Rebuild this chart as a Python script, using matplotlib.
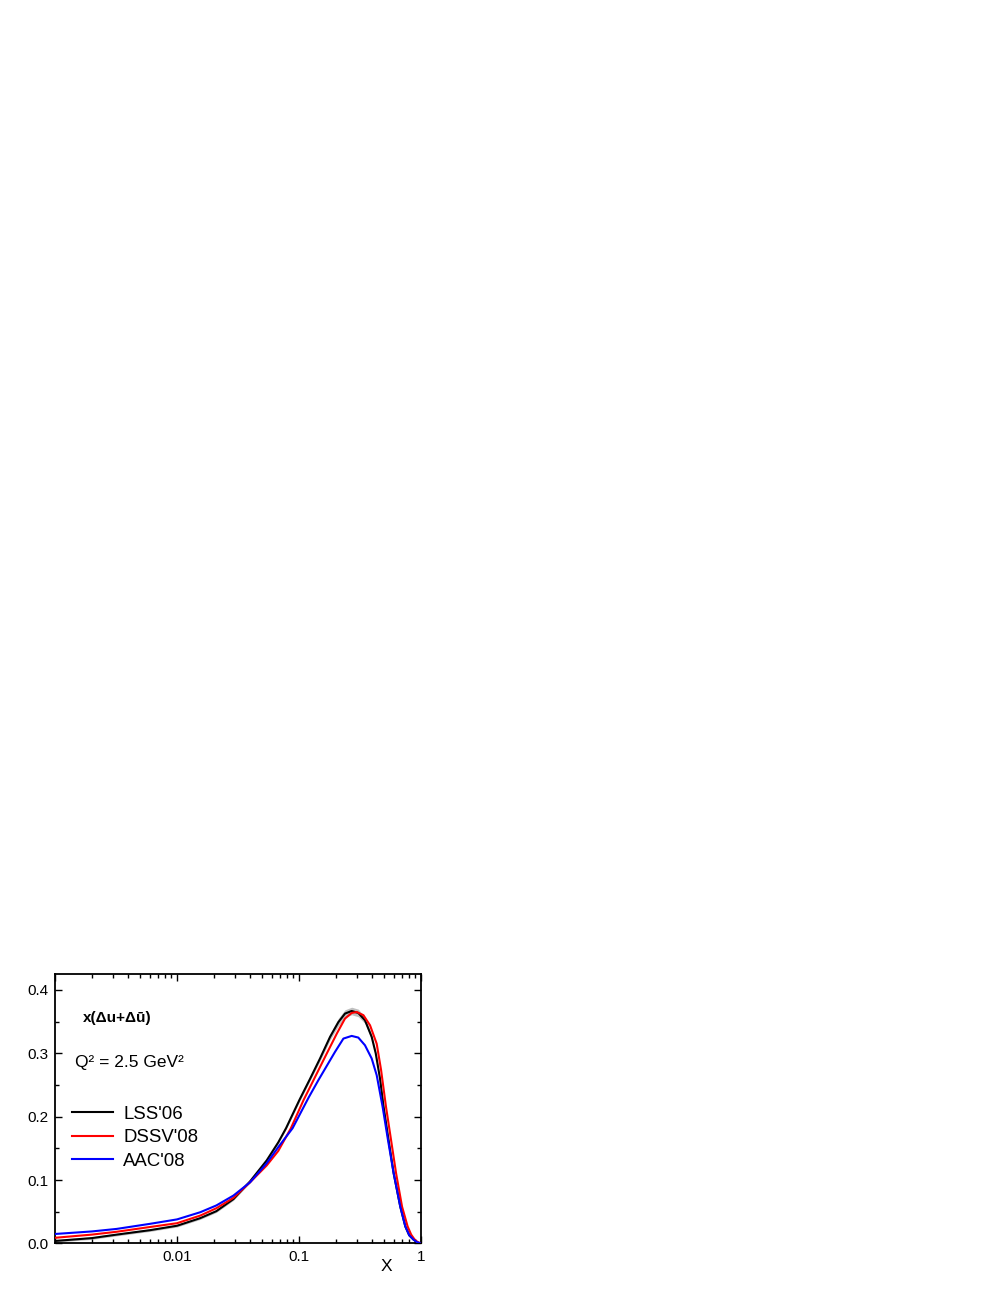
import numpy as np
import matplotlib
matplotlib.use("Agg")
import matplotlib.pyplot as plt
from matplotlib.ticker import FixedLocator, MultipleLocator, NullFormatter, LogLocator

plt.rcParams['font.family'] = ['Liberation Sans', 'DejaVu Sans']

# ---- data ----
x_lss = [0.001, 0.002, 0.0032, 0.006, 0.01, 0.0155, 0.021, 0.029, 0.0397, 0.0543,
         0.0676, 0.0782, 0.1007, 0.123, 0.1486, 0.1795, 0.21, 0.238, 0.27, 0.306,
         0.347, 0.394, 0.425, 0.461, 0.493, 0.542, 0.596, 0.676, 0.743, 0.80,
         0.869, 0.93, 1.0]
y_lss = [0.004, 0.0085, 0.014, 0.021, 0.028, 0.040, 0.051, 0.070, 0.098, 0.131,
         0.1595, 0.1817, 0.2263, 0.2595, 0.2917, 0.3257, 0.349, 0.3625, 0.3666, 0.3635,
         0.352, 0.3257, 0.300, 0.260, 0.2157, 0.163, 0.111, 0.058, 0.027, 0.013,
         0.006, 0.002, 0.0]
lss_err = [0.002, 0.002, 0.002, 0.002, 0.002, 0.002, 0.002, 0.002, 0.002, 0.002,
           0.002, 0.002, 0.003, 0.003, 0.004, 0.005, 0.006, 0.006, 0.006, 0.006,
           0.005, 0.004, 0.003, 0.003, 0.003, 0.002, 0.002, 0.002, 0.001, 0.001,
           0.001, 0.0005, 0.0]

x_dssv = [0.001, 0.002, 0.0032, 0.006, 0.01, 0.0155, 0.021, 0.029, 0.0397, 0.0543,
          0.0676, 0.0857, 0.109, 0.1245, 0.149, 0.1687, 0.204, 0.238, 0.27, 0.297,
          0.337, 0.382, 0.433, 0.47, 0.516, 0.568, 0.624, 0.699, 0.776, 0.83,
          0.88, 0.94, 1.0]
y_dssv = [0.009, 0.014, 0.0185, 0.026, 0.032, 0.044, 0.0556, 0.072, 0.0965, 0.123,
          0.146, 0.1817, 0.2263, 0.2485, 0.2787, 0.2995, 0.331, 0.3546, 0.3635, 0.365,
          0.360, 0.344, 0.315, 0.274, 0.2157, 0.163, 0.111, 0.058, 0.027, 0.014,
          0.007, 0.002, 0.0]

x_aac = [0.001, 0.002, 0.0032, 0.006, 0.01, 0.0155, 0.021, 0.029, 0.0397, 0.0543,
         0.0676, 0.0885, 0.1197, 0.144, 0.1687, 0.197, 0.231, 0.27, 0.306, 0.347,
         0.394, 0.433, 0.484, 0.536, 0.596, 0.676, 0.743, 0.80, 0.869, 0.93, 1.0]
y_aac = [0.015, 0.019, 0.023, 0.031, 0.038, 0.0493, 0.060, 0.0756, 0.0965, 0.1265,
         0.152, 0.1817, 0.230, 0.2575, 0.280, 0.302, 0.3231, 0.3273, 0.3247, 0.3126,
         0.2917, 0.2654, 0.2157, 0.163, 0.111, 0.058, 0.027, 0.013, 0.006, 0.002, 0.0]

labels = ["LSS'06", "DSSV'08", "AAC'08"]
colors = ["black", "#ff0000", "#0000ff"]

xtick_vals = [0.001, 0.01, 0.1, 1]
xtick_labels = ["", "0.01", "0.1", "1"]
ytick_vals = [0.0, 0.1, 0.2, 0.3, 0.4]

# ---- figure ----
fig = plt.figure(figsize=(10.08, 13.04), dpi=100)
ax = fig.add_axes([0.0546, 0.0464, 0.3631, 0.2067])

xl = np.array(x_lss)
yl = np.array(y_lss)
el = np.array(lss_err)
ax.fill_between(xl, yl - el, yl + el, color="#c0c0c0", lw=0, zorder=1)
ax.plot(x_lss, y_lss, color=colors[0], lw=1.5, label=labels[0], zorder=3)
ax.plot(x_dssv, y_dssv, color=colors[1], lw=1.5, label=labels[1], zorder=4)
ax.plot(x_aac, y_aac, color=colors[2], lw=1.5, label=labels[2], zorder=5)

ax.set_xscale("log")
ax.set_xlim(0.001, 1)
ax.set_ylim(0, 0.425)

ax.xaxis.set_major_locator(FixedLocator(xtick_vals))
ax.set_xticklabels(xtick_labels)
ax.xaxis.set_minor_locator(LogLocator(base=10, subs=np.arange(2, 10)))
ax.xaxis.set_minor_formatter(NullFormatter())
ax.set_yticks(ytick_vals)
ax.set_yticklabels(["%.1f" % v for v in ytick_vals])
ax.yaxis.set_minor_locator(MultipleLocator(0.05))

ax.tick_params(which="both", direction="in", top=True, right=True, labelsize=11,
               width=1.0, pad=5)
ax.tick_params(which="major", length=5)
ax.tick_params(which="minor", length=3)
for s in ax.spines.values():
    s.set_linewidth(1.3)

ax.text(0.906, -0.084, "X", transform=ax.transAxes, fontsize=12.5,
        ha="center", va="center")

ax.text(0.076, 0.837, "x(\u0394u+\u0394\u016b)", transform=ax.transAxes,
        fontsize=11, fontweight="bold", ha="left", va="center")
ax.text(0.055, 0.673, "Q\u00b2 = 2.5 GeV\u00b2", transform=ax.transAxes,
        fontsize=12.5, ha="left", va="center")

ax.legend(loc="upper left", bbox_to_anchor=(0.0455, 0.511), frameon=False,
          fontsize=13.4, handlelength=2.24, handletextpad=0.54, labelspacing=0.35,
          borderpad=0, borderaxespad=0)

fig.savefig("out.png", dpi=100)
